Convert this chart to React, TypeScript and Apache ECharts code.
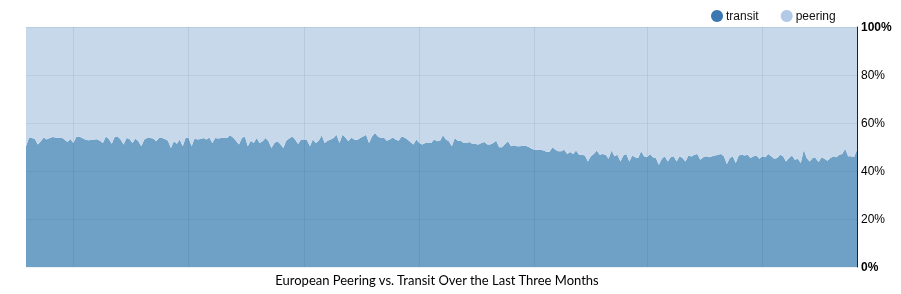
import React, { useEffect, useRef } from "react";
import * as echarts from "echarts";

const transitA = [50.3, 53.75, 53.75, 53.3, 51, 52.4, 54, 53.1, 53.75, 54.2, 54, 53.75, 54, 53.1, 52.1, 53.3, 51.7, 54.2, 54.4, 53.75, 53.1, 52.8, 52.9, 53.1, 53.2, 52.6, 51.7, 54.4, 53.3, 51.4, 54.3, 54.4, 53.1, 51, 53.75, 53.3, 51.7, 53.5, 52.4, 50.3, 53.1, 53.75, 53.75, 53.5, 52.4, 53.75, 53.75, 53.3, 52.6, 49.6, 52.4, 51.4, 53.1, 50.3, 54, 53.75];
const transitB = [50.3, 53.5, 53.1, 53.3, 53.75, 53.1, 54, 51.7, 53.75, 53.5, 53.75, 54, 53.75, 54.9, 54, 52.6, 51, 53.75, 54.4, 50.3, 52.6, 51.7, 53.75, 51.7, 52.4, 53.75, 52.4, 49.6, 51.7, 52.4, 51.25, 49.6, 52.6, 53.5, 54.4, 53.1, 51.25, 53.1, 53.1, 52.9, 50.3, 53.1, 51.7, 52.6, 54.9, 51.7, 52.6, 53.1, 53.75, 55.1, 51.7, 55.1, 54, 52.4, 54, 53.1];
const transitC = [52.9, 53.75, 54.4, 55.1, 51.7, 54.4, 55.8, 54.4, 53.75, 54, 52.6, 53.1, 54, 53.1, 52.6, 54.4, 54, 53.1, 52.1, 51, 53.1, 51.7, 51, 51.7, 51.7, 51.7, 53.1, 52.4, 52.6, 54.9, 53.1, 52.4, 50.3, 53.75, 52.6, 52.6, 51.7, 51.7, 52.1, 51.25, 51.25, 51, 51.7, 52.1, 51, 51, 51.7, 52.6, 49.9, 49.9, 51.25, 52.4, 50.3, 50.7, 50.3, 50.3];
const transitD = [50.5, 50.5, 50, 49.3, 48.9, 48.9, 48.9, 48.5, 48, 47.9, 49.9, 48.9, 48.2, 48.2, 48.9, 47.1, 47.9, 47.1, 48.5, 46.8, 46.8, 46.5, 44, 46.1, 47.1, 48.5, 46.8, 47.1, 46.8, 45.1, 48.5, 46.1, 46.8, 44, 46.5, 47.1, 44, 46.5, 45.7, 45.4, 48.2, 46.1, 45.7, 47.1, 45.7, 45.4, 42.6, 45.1, 46.1, 44, 45.7, 46.1, 44, 46.1, 45.4, 44, 46.5];
const transitE = [46, 46.8, 47.1, 44.7, 45.7, 46.1, 45.7, 46.1, 46.5, 46.8, 47.1, 46.1, 42.9, 45.4, 46.1, 43.3, 46.5, 46.8, 46.5, 46.8, 45.4, 46.1, 46.5, 45.1, 46.1, 45.7, 47.1, 46.1, 45.1, 45.4, 46.8, 46.1, 44, 45.4, 46.5, 44.7, 45.1, 43.3, 48.9, 45.4, 44, 45.4, 45.4, 43.7, 45.7, 45.1, 44.3, 45.4, 46.1, 45.7, 46.8, 47.1, 49.3, 46.1, 46.1, 45.7, 48.9];

const transit = [...transitA, ...transitB, ...transitC, ...transitD, ...transitE];
const peering = transit.map((v) => +(100 - v).toFixed(2));
const categories = transit.map((_, i) => String(i));
const gridLineIdx = [16, 55, 94, 133, 172, 210, 249];
const yTicks = [0, 20, 40, 60, 80, 100];
const titleText = "European Peering vs. Transit Over the Last Three Months";

export default function App() {
  const ref = useRef<HTMLDivElement>(null);
  useEffect(() => {
    if (!ref.current) return;
    const chart = echarts.init(ref.current, null, { renderer: "svg" });
    chart.setOption({
      animation: false,
      grid: { left: 26, right: 44, top: 27, bottom: 27 },
      legend: {
        data: ["transit", "peering"],
        left: 706,
        top: 5,
        icon: "circle",
        itemWidth: 12,
        itemHeight: 12,
        itemGap: 22,
        textStyle: { fontFamily: "Liberation Sans", fontSize: 12, color: "#111", padding: [0, 0, 0, -2] },
      },
      xAxis: {
        type: "category",
        data: categories,
        boundaryGap: false,
        z: 5,
        axisLine: { show: false },
        axisTick: { show: false },
        axisLabel: { show: false },
        splitLine: {
          show: true,
          interval: (i: number) => gridLineIdx.includes(i),
          lineStyle: { color: "rgba(20,60,100,0.09)", width: 1 },
        },
      },
      yAxis: {
        type: "value",
        position: "right",
        min: yTicks[0],
        max: yTicks[yTicks.length - 1],
        interval: 20,
        z: 5,
        axisLine: { show: true, lineStyle: { color: "#222", width: 1 } },
        axisTick: { show: false },
        axisLabel: {
          margin: 4,
          fontFamily: "Liberation Sans",
          fontSize: 12,
          color: "#000",
          formatter: (v: number) => (v === 0 || v === 100 ? `{b|${v}%}` : `${v}%`),
          rich: { b: { fontWeight: "bold", fontFamily: "Liberation Sans", fontSize: 12, color: "#000" } },
        },
        splitLine: { show: true, lineStyle: { color: "rgba(20,60,100,0.07)", width: 1 } },
      },
      series: [
        {
          name: "transit",
          type: "line",
          stack: "total",
          data: transit,
          showSymbol: false,
          symbol: "none",
          color: "#3b78b1",
          lineStyle: { width: 0 },
          areaStyle: { color: "#6fa0c6", opacity: 1 },
          z: 2,
        },
        {
          name: "peering",
          type: "line",
          stack: "total",
          data: peering,
          showSymbol: false,
          symbol: "none",
          color: "#b3cae6",
          lineStyle: { width: 0 },
          areaStyle: { color: "#c6d8ea", opacity: 1 },
          z: 2,
        },
      ],
      graphic: [
        {
          type: "text",
          x: 437,
          y: 280,
          style: {
            text: titleText,
            fontFamily: "Lato",
            fontSize: 13,
            fill: "#000",
            textAlign: "center",
            textVerticalAlign: "middle",
          },
        },
      ],
    });
    return () => chart.dispose();
  }, []);
  return <div ref={ref} style={{ position: "fixed", left: 0, top: 0, width: 901, height: 294 }} />;
}
